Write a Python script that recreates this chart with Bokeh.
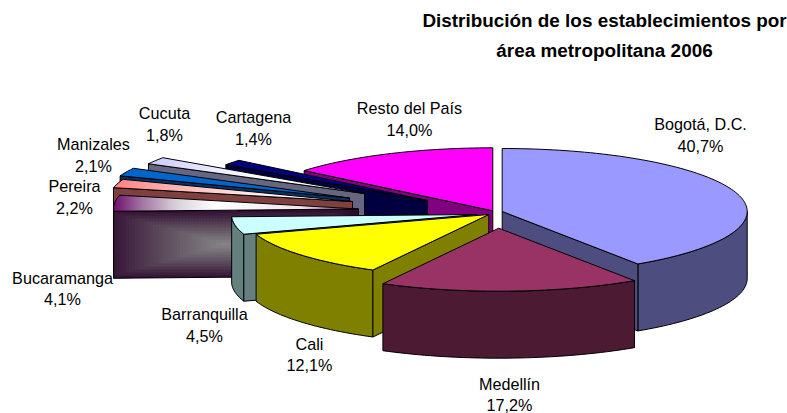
import math
from bokeh.plotting import figure
from bokeh.models import Range1d, ColumnDataSource
from bokeh.core.properties import value
from bokeh.embed import file_html
from bokeh.resources import INLINE

title_lines = ["Distribución de los establecimientos por", "área metropolitana 2006"]
categories = ["Bogotá, D.C.", "Medellín", "Cali", "Barranquilla", "Bucaramanga",
              "Pereira", "Manizales", "Cucuta", "Cartagena", "Resto del País"]
shares = [40.7, 17.2, 12.1, 4.5, 4.1, 2.2, 2.1, 1.8, 1.4, 14.0]

# --- layout and style, in screenshot pixels ---
apex_x = [501.7, 498.3, 488.3, 476, 358, 352, 349, 364, 427, 492.3]
apex_y = [211, 227.7, 214, 214, 208.5, 201, 197.5, 193, 200, 210.3]
top_colors = ["#9999FF", "#993366", "#FFFF00", "#CCFFFF", "#660066",
              "#FF8080", "#0066CC", "#CCCCFF", "#000080", "#FF00FF"]
wall_colors = ["#4D4D80", "#4D1A33", "#808000", "#668080", "#330033",
               "#804040", "#003366", "#666680", "#000040", "#800080"]
top_gradients = {
    4: [(113, "#6E0E6E"), (140, "#A070A0"), (175, "#D8D0D8"), (215, "#FFFFFF"), (300, "#EFE6EF"), (358, "#6A3A6A")],
    5: [(113, "#FF8080"), (170, "#FFB0B0"), (260, "#FFEEEE"), (352, "#FFFFFF")],
    7: [(149, "#CCCCFF"), (200, "#E4E4FF"), (265, "#FFFFFF"), (364, "#FFFFFF")],
}
label_x = [700, 509, 309, 204, 62, 74, 93, 164, 253, 409]
label_y = [123.5, 383, 343, 313.5, 277, 185.5, 143.5, 112.5, 116.5, 107.5]
label_gap = 21.5
RX, RY, DEPTH = 245.0, 63.0, 67.0


def rim(cx, cy, deg, dy=0.0):
    a = math.radians(deg)
    return cx + RX * math.sin(a), cy - RY * math.cos(a) + dy


def arc(cx, cy, a0, a1, dy=0.0):
    n = max(2, int(abs(a1 - a0) / 1.5) + 1)
    return [rim(cx, cy, a0 + (a1 - a0) * i / (n - 1), dy) for i in range(n)]


def clip(poly, axis, lo, hi):
    for bound, keep in ((lo, lambda v: v >= lo), (hi, lambda v: v <= hi)):
        out = []
        for i, pt in enumerate(poly):
            prev = poly[i - 1]
            if keep(pt[axis]) != keep(prev[axis]):
                t = (bound - prev[axis]) / (pt[axis] - prev[axis])
                out.append((prev[0] + (pt[0] - prev[0]) * t, prev[1] + (pt[1] - prev[1]) * t))
            if keep(pt[axis]):
                out.append(pt)
        poly = out
        if not poly:
            return poly
    return poly


def hex_rgb(c):
    return tuple(int(c[i:i + 2], 16) for i in (1, 3, 5))


def mix(c0, c1, t):
    a, b = hex_rgb(c0), hex_rgb(c1)
    return "#%02X%02X%02X" % tuple(round(a[i] + (b[i] - a[i]) * t) for i in range(3))


def stop_color(stops, x):
    if x <= stops[0][0]:
        return stops[0][1]
    for (x0, c0), (x1, c1) in zip(stops, stops[1:]):
        if x <= x1:
            return mix(c0, c1, (x - x0) / (x1 - x0))
    return stops[-1][1]


faces = dict(xs=[], ys=[], fill=[], alpha=[], line=[], lalpha=[])


def add(poly, fill=None, stroke=True):
    faces["xs"].append([p[0] for p in poly])
    faces["ys"].append([p[1] for p in poly])
    faces["fill"].append(fill or "#000000")
    faces["alpha"].append(1.0 if fill else 0.0)
    faces["line"].append("black")
    faces["lalpha"].append(1.0 if stroke else 0.0)


total = sum(shares)
# painter's order: back to front
order = [9, 8, 7, 6, 5, 4, 0, 3, 2, 1]
starts, acc = [], 0.0
for s in shares:
    starts.append(acc / total * 360)
    acc += s

for i in order:
    a0, a1 = starts[i], starts[i] + shares[i] / total * 360
    cx, cy = apex_x[i], apex_y[i]
    apex = (cx, cy)
    # outer curved wall, front half only
    f0, f1 = max(a0, 90), min(a1, 270)
    if f1 > f0:
        add(arc(cx, cy, f0, f1) + arc(cx, cy, f1, f0, DEPTH), wall_colors[i])
    # radial walls facing the viewer
    for deg, visible in ((a0, math.sin(math.radians(a0)) < -1e-6),
                         (a1, math.sin(math.radians(a1)) > 1e-6)):
        if not visible:
            continue
        p0 = rim(cx, cy, deg)
        wall = [apex, p0, (p0[0], p0[1] + DEPTH), (cx, cy + DEPTH)]
        if i == 4:  # rectangular gradient of the Bucaramanga wall
            gx, gy, hw, hh = 225.0, 244.0, 125.0, 35.0
            x = p0[0]
            while x < cx:
                y = 206.0
                while y < 280:
                    cell = clip(clip(wall, 0, x, x + 4), 1, y, y + 4)
                    if len(cell) > 2:
                        t = max(abs(x + 1.5 - gx) / hw, abs(y + 1.5 - gy) / hh)
                        add(cell, mix("#858585", "#2E0A2E", min(1, t ** 1.1)), stroke=False)
                    y += 3
                x += 3
            add(wall)
        else:
            add(wall, wall_colors[i])
    # top face
    top = [apex] + arc(cx, cy, a0, a1)
    if i in top_gradients:
        stops = top_gradients[i]
        x0, x1 = min(p[0] for p in top), max(p[0] for p in top)
        x = x0
        while x < x1:
            cell = clip(top, 0, x, x + 3)
            if len(cell) > 2:
                add(cell, stop_color(stops, x + 1), stroke=False)
            x += 2
        add(top)
    else:
        add(top, top_colors[i])

p = figure(width=787, height=413, output_backend="svg", toolbar_location=None,
           x_range=Range1d(0, 787), y_range=Range1d(413, 0),
           min_border=0, outline_line_color=None, background_fill_color="white")
p.axis.visible = False
p.grid.visible = False

p.patches("xs", "ys", source=ColumnDataSource(faces), fill_color="fill", fill_alpha="alpha",
          line_color="line", line_alpha="lalpha", line_width=1, line_join="miter")

tx, ty, tt = [], [], []
for name, share, x, y in zip(categories, shares, label_x, label_y):
    tx += [x, x]
    ty += [y, y + label_gap]
    tt += [name, f"{share:.1f}%".replace(".", ",")]
p.text(tx, ty, text=tt, text_font=value("Liberation Sans"), text_font_size="16.2px",
       text_color="black", text_align="center", text_baseline="middle")
p.text([604, 604], [20, 50], text=title_lines, text_font=value("Liberation Sans"),
       text_font_style="bold", text_font_size="18.9px", text_color="black",
       text_align="center", text_baseline="middle")

open("out.html", "w").write(file_html(p, INLINE))
